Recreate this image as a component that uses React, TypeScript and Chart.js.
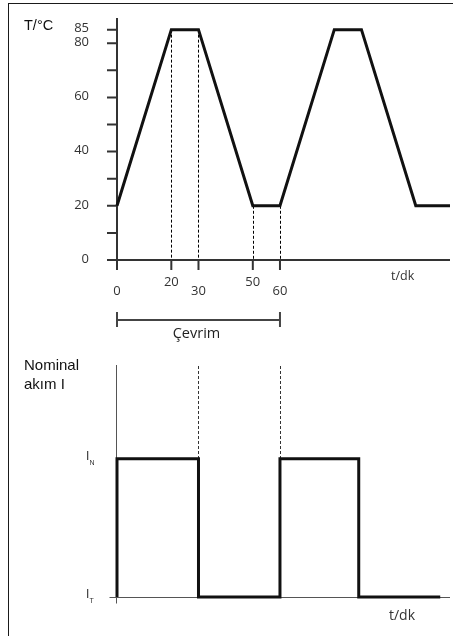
import React, { useEffect, useRef } from "react";
import { Chart, registerables } from "chart.js";

Chart.register(...registerables);

// ---- Data ----
const cycleTime = [0, 20, 30, 50, 60, 80, 90, 110, 122.6];
const temperature = [20, 85, 85, 20, 20, 85, 85, 20, 20];
const tempLabelTicks = [0, 20, 40, 60, 80, 85];
const tempMinorTicks = [10, 30, 50, 70];
const timeTicks = [0, 20, 30, 50, 60];
const cycleMarks = [20, 30, 50, 60];
const cycleStart = 0;
const cycleEnd = 60;
const currentTime = [0, 0, 30, 30, 60, 60, 89, 89, 119];
const currentLevel = [0, 1, 1, 0, 0, 1, 1, 0, 0];
const currentMarks = [30, 60];
const currentLabels = [
  { value: 1, main: "I", sub: "N" },
  { value: 0, main: "I", sub: "T" },
];

const X_MAX = 122.6;
const SANS = '"Open Sans", "DejaVu Sans", sans-serif';
const ARIAL = '"Liberation Sans", Arial, sans-serif';
const AXIS = "#333";

const topPlugin = {
  id: "topDecor",
  beforeDatasetsDraw(chart: any) {
    const { ctx, chartArea, scales } = chart;
    const x = scales.x;
    const y = scales.y;
    const x0 = x.getPixelForValue(0);
    const y0 = y.getPixelForValue(0);
    ctx.save();
    // dashed guide lines
    ctx.strokeStyle = "#000";
    ctx.lineWidth = 1;
    ctx.setLineDash([3, 2]);
    for (const t of cycleMarks) {
      const i = cycleTime.indexOf(t);
      const px = Math.round(x.getPixelForValue(t)) + 0.5;
      ctx.beginPath();
      ctx.moveTo(px, y.getPixelForValue(temperature[i]));
      ctx.lineTo(px, y0);
      ctx.stroke();
    }
    ctx.setLineDash([]);
    // axes
    ctx.strokeStyle = AXIS;
    ctx.lineWidth = 2;
    ctx.beginPath();
    ctx.moveTo(x0, chartArea.top);
    ctx.lineTo(x0, y0 + 10);
    ctx.moveTo(x0 - 10, y0);
    ctx.lineTo(chartArea.right, y0);
    // y ticks
    for (const v of [...tempLabelTicks, ...tempMinorTicks]) {
      if (v === 0) continue;
      const py = y.getPixelForValue(v);
      ctx.moveTo(x0 - 10, py);
      ctx.lineTo(x0, py);
    }
    // x ticks
    for (const t of timeTicks) {
      if (t === 0) continue;
      const px = x.getPixelForValue(t);
      ctx.moveTo(px, y0);
      ctx.lineTo(px, y0 + 10);
    }
    ctx.stroke();

    // y labels
    ctx.fillStyle = AXIS;
    ctx.font = `13px ${SANS}`;
    ctx.textAlign = "right";
    ctx.textBaseline = "middle";
    for (const v of tempLabelTicks) {
      ctx.fillText(String(v), x0 - 28, y.getPixelForValue(v) - 1);
    }
    // x labels (staggered)
    ctx.font = `13px ${SANS}`;
    ctx.textAlign = "center";
    timeTicks.forEach((t, i) => {
      ctx.fillText(String(t), x.getPixelForValue(t), y0 + (i % 2 === 1 ? 22 : 31));
    });

    // axis titles
    ctx.textBaseline = "alphabetic";
    ctx.textAlign = "left";
    ctx.font = `14.5px ${ARIAL}`;
    ctx.fillStyle = "#111";
    ctx.fillText("T/°C", 24, 29.5);
    ctx.font = `12.5px ${SANS}`;
    ctx.fillStyle = AXIS;
    ctx.fillText("t/dk", 391, 280);

    // cycle bracket
    const bx0 = x.getPixelForValue(cycleStart);
    const bx1 = x.getPixelForValue(cycleEnd);
    const by = y0 + 60;
    ctx.strokeStyle = "#444";
    ctx.lineWidth = 2;
    ctx.beginPath();
    ctx.moveTo(bx0, by);
    ctx.lineTo(bx1, by);
    ctx.moveTo(bx0, by - 8);
    ctx.lineTo(bx0, by + 7);
    ctx.moveTo(bx1, by - 8);
    ctx.lineTo(bx1, by + 7);
    ctx.stroke();
    ctx.font = `14.5px ${SANS}`;
    ctx.textAlign = "center";
    ctx.fillStyle = "#222";
    ctx.fillText("Çevrim", (bx0 + bx1) / 2 - 2, by + 18);
    ctx.restore();
  },
};

const bottomPlugin = {
  id: "bottomDecor",
  beforeDatasetsDraw(chart: any) {
    const { ctx, chartArea, scales } = chart;
    const x = scales.x;
    const y = scales.y;
    const x0 = Math.round(x.getPixelForValue(0)) - 0.5;
    const y0 = Math.round(y.getPixelForValue(0)) + 0.5;
    ctx.save();
    // dashed guide lines
    ctx.strokeStyle = "#333";
    ctx.lineWidth = 1;
    ctx.setLineDash([3, 2]);
    for (const t of currentMarks) {
      const px = Math.round(x.getPixelForValue(t)) + 0.5;
      ctx.beginPath();
      ctx.moveTo(px, chartArea.top + 1);
      ctx.lineTo(px, y.getPixelForValue(1));
      ctx.stroke();
    }
    ctx.setLineDash([]);
    // axes
    ctx.strokeStyle = "#555";
    ctx.lineWidth = 1;
    ctx.beginPath();
    ctx.moveTo(x0, chartArea.top);
    ctx.lineTo(x0, y0 + 6);
    ctx.moveTo(x0 - 7, y0);
    ctx.lineTo(chartArea.right, y0);
    ctx.stroke();

    // level labels
    ctx.fillStyle = "#333";
    ctx.textAlign = "left";
    ctx.textBaseline = "alphabetic";
    for (const l of currentLabels) {
      const py = y.getPixelForValue(l.value);
      ctx.font = `12px ${ARIAL}`;
      ctx.fillText(l.main, 86, py + 1);
      ctx.font = `7px ${ARIAL}`;
      ctx.fillText(l.sub, 89.5, py + 6);
    }

    // titles
    ctx.fillStyle = "#111";
    ctx.font = `15px ${ARIAL}`;
    ctx.fillText("Nominal", 24, 20);
    ctx.fillText("akım I", 24, 39);
    ctx.fillStyle = AXIS;
    ctx.font = `14px ${SANS}`;
    ctx.fillText("t/dk", 389, 270);
    ctx.restore();
  },
};

export default function App() {
  const topRef = useRef<HTMLCanvasElement>(null);
  const botRef = useRef<HTMLCanvasElement>(null);

  useEffect(() => {
    const top = new Chart(topRef.current as HTMLCanvasElement, {
      type: "scatter",
      data: {
        datasets: [
          {
            data: cycleTime.map((t, i) => ({ x: t, y: temperature[i] })),
            showLine: true,
            borderColor: "#111",
            borderWidth: 3,
            borderJoinStyle: "miter",
            pointRadius: 0,
            clip: false,
          } as any,
        ],
      },
      options: {
        responsive: false,
        animation: false,
        events: [],
        layout: { padding: { left: 117, right: 3, top: 18, bottom: 90 } },
        plugins: { legend: { display: false }, tooltip: { enabled: false } },
        scales: {
          x: { type: "linear", min: 0, max: X_MAX, display: false },
          y: { type: "linear", min: 0, max: 89.3, display: false },
        },
      },
      plugins: [topPlugin],
    });

    const bot = new Chart(botRef.current as HTMLCanvasElement, {
      type: "scatter",
      data: {
        datasets: [
          {
            data: currentTime.map((t, i) => ({ x: t, y: currentLevel[i] })),
            showLine: true,
            borderColor: "#111",
            borderWidth: 3,
            borderJoinStyle: "miter",
            pointRadius: 0,
            clip: false,
          } as any,
        ],
      },
      options: {
        responsive: false,
        animation: false,
        events: [],
        layout: { padding: { left: 117, right: 3, top: 15, bottom: 39 } },
        plugins: { legend: { display: false }, tooltip: { enabled: false } },
        scales: {
          x: { type: "linear", min: 0, max: X_MAX, display: false },
          y: { type: "linear", min: 0, max: 1.677, display: false },
        },
      },
      plugins: [bottomPlugin],
    });

    return () => {
      top.destroy();
      bot.destroy();
    };
  }, []);

  return (
    <div
      style={{
        position: "fixed",
        left: 0,
        top: 0,
        width: 453,
        height: 636,
        overflow: "hidden",
        background: "#fff",
      }}
    >
      <div
        style={{
          position: "absolute",
          left: 8,
          top: 3,
          width: 470,
          height: 660,
          border: "1px solid #1a1a1a",
        }}
      />
      <canvas
        ref={topRef}
        width={453}
        height={350}
        style={{ position: "absolute", left: 0, top: 0, width: 453, height: 350 }}
      />
      <canvas
        ref={botRef}
        width={453}
        height={286}
        style={{ position: "absolute", left: 0, top: 350, width: 453, height: 286 }}
      />
    </div>
  );
}
